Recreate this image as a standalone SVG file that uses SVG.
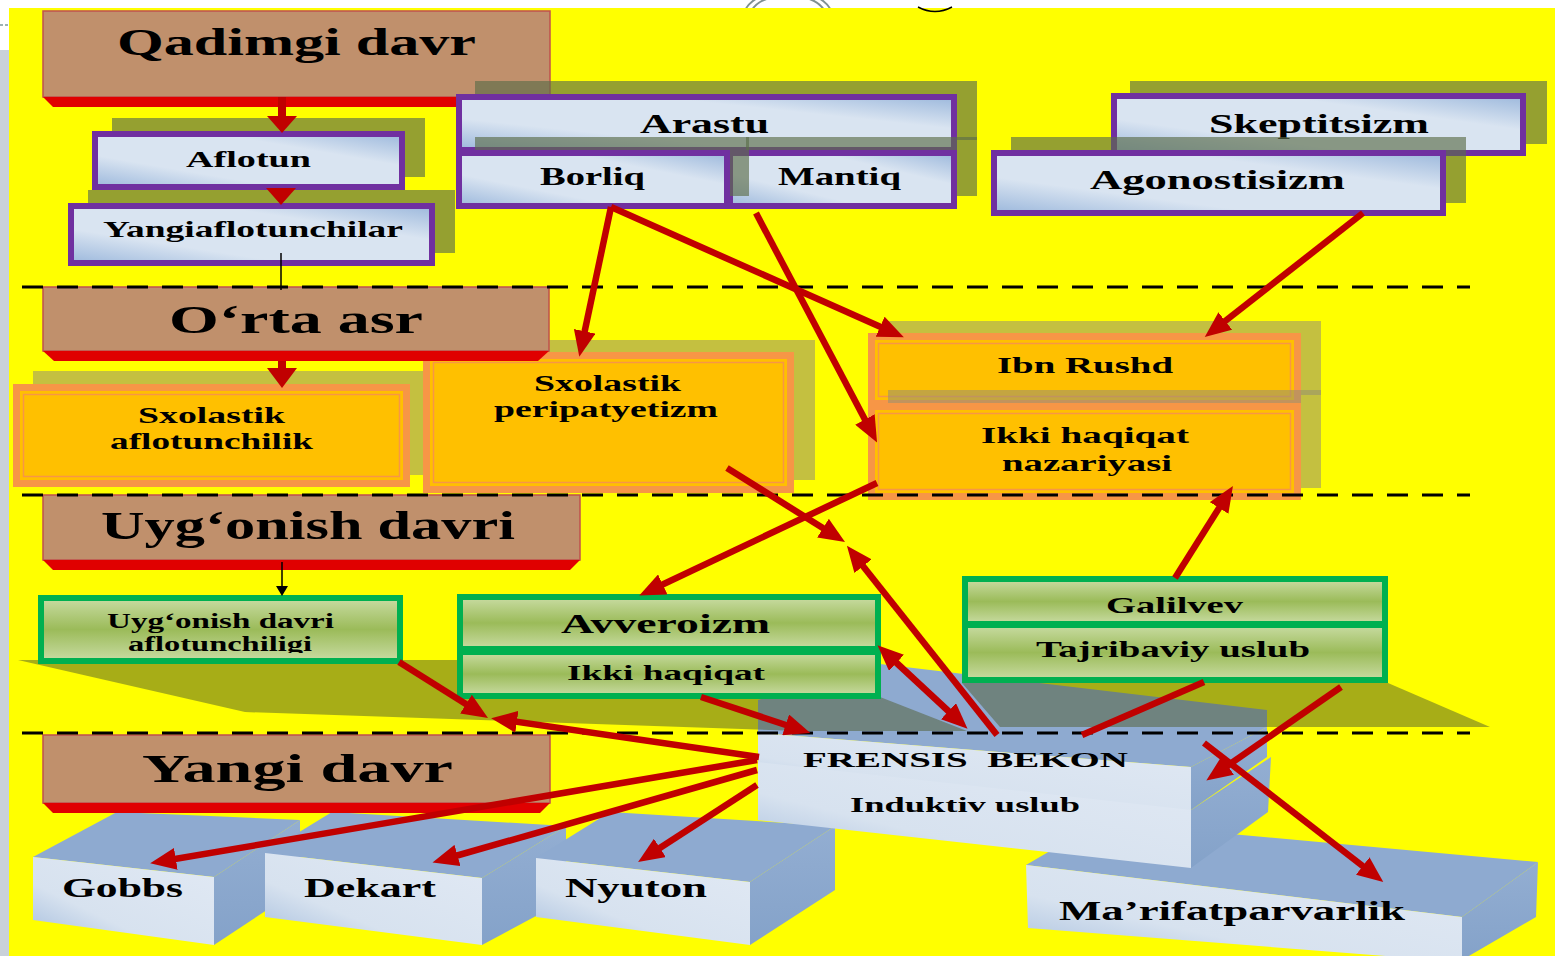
<svg xmlns="http://www.w3.org/2000/svg" width="1555" height="956" viewBox="0 0 1555 956">
<defs>
<linearGradient id="pb" x1="0" y1="1" x2="1" y2="0">
<stop offset="0" stop-color="#9cb8dc"/><stop offset="0.3" stop-color="#d9e4f1"/><stop offset="0.7" stop-color="#d9e4f1"/><stop offset="1" stop-color="#9cb8dc"/>
</linearGradient>
<linearGradient id="gg" x1="0" y1="0" x2="0" y2="1">
<stop offset="0" stop-color="#c9dca3"/><stop offset="0.5" stop-color="#9bbb59"/><stop offset="1" stop-color="#c9dca3"/>
</linearGradient>
<linearGradient id="fb" x1="0" y1="1" x2="1" y2="0">
<stop offset="0" stop-color="#a3bcdc"/><stop offset="0.35" stop-color="#d7e2ef"/><stop offset="1" stop-color="#e1e9f4"/>
</linearGradient>
<linearGradient id="sb" x1="0" y1="0" x2="0" y2="1">
<stop offset="0" stop-color="#93aed2"/><stop offset="1" stop-color="#84a2c9"/>
</linearGradient>
<marker id="ah" markerUnits="userSpaceOnUse" markerWidth="26" markerHeight="22" viewBox="0 0 26 22" refX="13" refY="11" orient="auto-start-reverse"><path d="M0,0 L26,11 L0,22 z" fill="#c00000"/></marker>
<marker id="bh" markerUnits="userSpaceOnUse" markerWidth="10" markerHeight="12" viewBox="0 0 10 12" refX="0" refY="6" orient="auto"><path d="M0,0 L10,6 L0,12 z" fill="#000"/></marker>
<clipPath id="cg"><rect x="44" y="601" width="353" height="52"/></clipPath>
</defs>
<style>
.t{font-family:"Liberation Serif","Times New Roman",serif;font-weight:bold;fill:#000}
.pbox{fill:url(#pb);stroke:#7030a0;stroke-width:6}
.sp{fill:#5c6d4a;fill-opacity:.65}
.so{fill:#979070;fill-opacity:.57}
.sg{fill:#4f5b2e;fill-opacity:.5}
.ob{fill:#f79646}
.oi{fill:#ffc000}
.ol{fill:none;stroke:#f79646;stroke-width:1.5}
.gbox{fill:url(#gg);stroke:#00b050;stroke-width:6}
.br{fill:#c0906c;stroke:#c0504d;stroke-width:1.5}
.bv{fill:#e00000}
.top{fill:#8eaad0}
.side{fill:url(#sb)}
.front{fill:url(#fb)}
.dash{stroke:#000;stroke-width:3;stroke-dasharray:21 14;fill:none}
.ar{stroke:#c00000;stroke-width:6.5;fill:none;marker-end:url(#ah)}
</style>

<g id="background">
<rect width="1555" height="956" fill="#ffffff"/>
<rect x="0" y="50" width="9" height="906" fill="#c9d1d9"/>
<line x1="0" y1="25" x2="9" y2="25" stroke="#7f9a9a" stroke-width="1.5" stroke-dasharray="3 2"/>
<path d="M745,10 C752,-3 770,-9 788,-9 C806,-9 824,-3 831,10" stroke="#7f9090" stroke-width="2" fill="none"/>
<path d="M752,10 C758,0 772,-4 788,-4 C804,-4 818,0 824,10" stroke="#7f9090" stroke-width="2" fill="none"/>
<rect x="9" y="8" width="1546" height="948" fill="#ffff00"/>
<path d="M918,7 Q935,16 952,7" stroke="#000" stroke-width="1.5" fill="none"/>
</g>

<g id="n-marifat">
<polygon class="top" points="1026,865 1100,822 1538,862 1462,917"/>
<polygon class="side" points="1462,917 1538,862 1536,917 1462,960"/>
<polygon class="front" points="1026,865 1462,917 1462,962 1028,928"/>
<text class="t" x="1059" y="920" font-size="27" textLength="346" lengthAdjust="spacingAndGlyphs">Ma’rifatparvarlik</text>
</g>
<g id="n-gobbs">
<polygon class="top" points="33,857 117,812 300,820 214,877"/>
<polygon class="side" points="214,877 300,820 300,888 214,945"/>
<polygon class="front" points="33,857 214,877 214,945 33,920"/>
<text class="t" x="62" y="897" font-size="28" textLength="121" lengthAdjust="spacingAndGlyphs">Gobbs</text>
</g>
<g id="n-dekart">
<polygon class="top" points="265,853 332,812 566,826 482,878"/>
<polygon class="side" points="482,878 566,826 566,900 482,945"/>
<polygon class="front" points="265,853 482,878 482,945 265,917"/>
<text class="t" x="304" y="897" font-size="28" textLength="132" lengthAdjust="spacingAndGlyphs">Dekart</text>
</g>
<g id="n-nyuton">
<polygon class="top" points="536,858 610,812 835,826 750,882"/>
<polygon class="side" points="750,882 835,826 835,890 750,945"/>
<polygon class="front" points="536,858 750,882 750,945 536,917"/>
<text class="t" x="565" y="897" font-size="28" textLength="142" lengthAdjust="spacingAndGlyphs">Nyuton</text>
</g>
<g id="n-frensis">
<polygon class="side" points="1191,810 1271,757 1268,812 1191,868"/>
<polygon class="front" points="758,760 1191,808 1191,868 758,820"/>
<polygon class="top" points="758,733 1191,767 1267,727 1267,710 880,664 758,700"/>
<polygon class="side" points="1191,767 1267,727 1267,757 1191,810"/>
<polygon class="front" points="758,733 1191,767 1191,810 758,762"/>
<text class="t" x="803" y="767" font-size="22" textLength="325" lengthAdjust="spacingAndGlyphs" xml:space="preserve">FRENSIS  BEKON</text>
<text class="t" x="850" y="812" font-size="21" textLength="230" lengthAdjust="spacingAndGlyphs">Induktiv uslub</text>
</g>

<g id="green-shadows">
<polygon class="sg" points="18,660 460,660 460,697 880,697 967,731 800,731 245,712"/>
<polygon class="sg" points="962,683 1388,683 1490,727 1000,727"/>
</g>

<g id="n-uyg-afl">
<rect class="gbox" x="41" y="598" width="359" height="63"/>
<g clip-path="url(#cg)">
<text class="t" x="107" y="628" font-size="20" textLength="227" lengthAdjust="spacingAndGlyphs">Uyg‘onish davri</text>
<text class="t" x="128" y="651" font-size="20" textLength="184" lengthAdjust="spacingAndGlyphs">aflotunchiligi</text>
</g>
</g>
<g id="n-avveroizm">
<rect class="gbox" x="460" y="597" width="418" height="52"/>
<text class="t" x="561" y="633" font-size="27" textLength="209" lengthAdjust="spacingAndGlyphs">Avveroizm</text>
</g>
<g id="n-ikki">
<rect class="gbox" x="460" y="652" width="418" height="44"/>
<text class="t" x="567" y="680" font-size="21" textLength="198" lengthAdjust="spacingAndGlyphs">Ikki haqiqat</text>
</g>
<g id="n-galilvev">
<rect class="gbox" x="965" y="579" width="420" height="45"/>
<text class="t" x="1106" y="613" font-size="24" textLength="137" lengthAdjust="spacingAndGlyphs">Galilvev</text>
</g>
<g id="n-tajriba">
<rect class="gbox" x="965" y="625" width="420" height="55"/>
<text class="t" x="1036" y="657" font-size="24" textLength="274" lengthAdjust="spacingAndGlyphs">Tajribaviy uslub</text>
</g>

<g id="n-qadimgi">
<rect class="br" x="43" y="11" width="507" height="86"/>
<polygon class="bv" points="43,97 550,97 540,107 53,107"/>
<text class="t" x="117" y="55" font-size="38" textLength="359" lengthAdjust="spacingAndGlyphs">Qadimgi davr</text>
</g>
<g id="n-aflotun">
<rect class="sp" x="112" y="118" width="313" height="59"/>
<rect class="pbox" x="95" y="134" width="307" height="53"/>
<text class="t" x="186" y="167" font-size="23" textLength="125" lengthAdjust="spacingAndGlyphs">Aflotun</text>
</g>
<g id="n-yangiaflotun">
<rect class="sp" x="88" y="190" width="367" height="63"/>
<rect class="pbox" x="71" y="206" width="361" height="57"/>
<text class="t" x="103" y="237" font-size="23" textLength="300" lengthAdjust="spacingAndGlyphs">Yangiaflotunchilar</text>
</g>
<g id="n-arastu">
<rect class="sp" x="475" y="81" width="502" height="59"/>
<rect class="pbox" x="459" y="97" width="495" height="53"/>
<text class="t" x="640" y="133" font-size="27" textLength="129" lengthAdjust="spacingAndGlyphs">Arastu</text>
</g>
<g id="n-mantiq">
<rect class="sp" x="746" y="137" width="231" height="59"/>
<rect class="pbox" x="730" y="153" width="224" height="53"/>
<text class="t" x="778" y="185" font-size="25" textLength="123" lengthAdjust="spacingAndGlyphs">Mantiq</text>
</g>
<g id="n-borliq">
<rect class="sp" x="475" y="137" width="274" height="59"/>
<rect class="pbox" x="459" y="153" width="268" height="53"/>
<text class="t" x="540" y="185" font-size="25" textLength="105" lengthAdjust="spacingAndGlyphs">Borliq</text>
</g>
<g id="n-skeptitsizm">
<rect class="sp" x="1130" y="81" width="417" height="63"/>
<rect class="pbox" x="1114" y="96" width="409" height="57"/>
<text class="t" x="1209" y="133" font-size="28" textLength="220" lengthAdjust="spacingAndGlyphs">Skeptitsizm</text>
</g>
<g id="n-agonostisizm">
<rect class="sp" x="1011" y="137" width="455" height="66"/>
<rect class="pbox" x="994" y="153" width="449" height="60"/>
<text class="t" x="1090" y="189" font-size="28" textLength="255" lengthAdjust="spacingAndGlyphs">Agonostisizm</text>
</g>

<g id="n-sx-afl">
<rect class="so" x="33" y="371" width="392" height="104"/>
<rect class="ob" x="13" y="384" width="397" height="103"/>
<rect class="oi" x="20" y="391" width="383" height="89"/>
<rect class="ol" x="23.5" y="394.5" width="376" height="82"/>
<text class="t" x="138" y="423" font-size="23" textLength="147" lengthAdjust="spacingAndGlyphs">Sxolastik</text>
<text class="t" x="110" y="449" font-size="23" textLength="203" lengthAdjust="spacingAndGlyphs">aflotunchilik</text>
</g>
<g id="n-sx-per">
<rect class="so" x="443" y="340" width="372" height="140"/>
<rect class="ob" x="423" y="352" width="371" height="141"/>
<rect class="oi" x="430" y="359" width="357" height="127"/>
<rect class="ol" x="433.5" y="362.5" width="350" height="120"/>
<text class="t" x="534" y="391" font-size="23" textLength="147" lengthAdjust="spacingAndGlyphs">Sxolastik</text>
<text class="t" x="494" y="417" font-size="23" textLength="224" lengthAdjust="spacingAndGlyphs">peripatyetizm</text>
</g>
<g id="n-ibn-rushd">
<rect class="so" x="888" y="321" width="433" height="74"/>
<rect class="ob" x="868" y="333" width="433" height="74"/>
<rect class="oi" x="875" y="340" width="419" height="60"/>
<rect class="ol" x="878.5" y="343.5" width="412" height="53"/>
<text class="t" x="997" y="373" font-size="24" textLength="176" lengthAdjust="spacingAndGlyphs">Ibn Rushd</text>
</g>
<g id="n-ikki-nazariya">
<rect class="so" x="888" y="390" width="433" height="98"/>
<rect class="ob" x="868" y="403" width="433" height="97"/>
<rect class="oi" x="875" y="410" width="419" height="83"/>
<rect class="ol" x="878.5" y="413.5" width="412" height="76"/>
<text class="t" x="981" y="443" font-size="24" textLength="208" lengthAdjust="spacingAndGlyphs">Ikki haqiqat</text>
<text class="t" x="1002" y="471" font-size="24" textLength="170" lengthAdjust="spacingAndGlyphs">nazariyasi</text>
</g>

<g id="n-orta-asr">
<rect class="br" x="43" y="287" width="506" height="64"/>
<polygon class="bv" points="43,351 549,351 538,361 54,361"/>
<text class="t" x="169" y="333" font-size="39" textLength="254" lengthAdjust="spacingAndGlyphs">O‘rta asr</text>
</g>
<g id="n-uygonish">
<rect class="br" x="43" y="495" width="537" height="65"/>
<polygon class="bv" points="43,560 580,560 570,570 53,570"/>
<text class="t" x="101" y="539" font-size="39" textLength="414" lengthAdjust="spacingAndGlyphs">Uyg‘onish davri</text>
</g>
<g id="n-yangi-davr">
<rect class="br" x="43" y="735" width="507" height="68"/>
<polygon class="bv" points="43,803 550,803 540,813 53,813"/>
<text class="t" x="142" y="782" font-size="41" textLength="311" lengthAdjust="spacingAndGlyphs">Yangi davr</text>
</g>

<g id="dividers">
<line class="dash" x1="22" y1="287" x2="1470" y2="287"/>
<line class="dash" x1="22" y1="495" x2="1470" y2="495"/>
<line class="dash" x1="22" y1="733" x2="1470" y2="733"/>
</g>

<g id="connectors">
<rect x="278" y="97" width="8" height="21" fill="#c00000"/>
<polygon points="267,116 297,116 282,133" fill="#c00000"/>
<polygon points="266,188 296,188 281,205" fill="#c00000"/>
<rect x="278" y="361" width="8" height="9" fill="#c00000"/>
<polygon points="267,368 297,368 282,388" fill="#c00000"/>
<line x1="281" y1="253" x2="281" y2="290" stroke="#000" stroke-width="1.5"/>
<line x1="282" y1="562" x2="282" y2="586" stroke="#000" stroke-width="1.5" marker-end="url(#bh)"/>
<line class="ar" x1="611" y1="207" x2="582" y2="344"/>
<line class="ar" x1="611" y1="207" x2="892" y2="332"/>
<line class="ar" x1="756" y1="213" x2="871" y2="431"/>
<line class="ar" x1="1363" y1="213" x2="1215" y2="329"/>
<line class="ar" x1="727" y1="468" x2="834" y2="535"/>
<line class="ar" x1="877" y1="483" x2="651" y2="590"/>
<line class="ar" x1="997" y1="735" x2="855" y2="556"/>
<line class="ar" x1="887" y1="654" x2="958" y2="720" marker-start="url(#ah)"/>
<line class="ar" x1="1175" y1="578" x2="1226" y2="497"/>
<line x1="1204" y1="682" x2="1082" y2="735" stroke="#c00000" stroke-width="6.5"/>
<line class="ar" x1="1341" y1="687" x2="1217" y2="773"/>
<line class="ar" x1="1204" y1="743" x2="1373" y2="874"/>
<line class="ar" x1="399" y1="662" x2="477" y2="711"/>
<line class="ar" x1="759" y1="757" x2="504" y2="720"/>
<line class="ar" x1="701" y1="697" x2="798" y2="729"/>
<line class="ar" x1="757" y1="760" x2="163" y2="861"/>
<line class="ar" x1="757" y1="770" x2="445" y2="859"/>
<line class="ar" x1="757" y1="785" x2="649" y2="855"/>
</g>
</svg>
